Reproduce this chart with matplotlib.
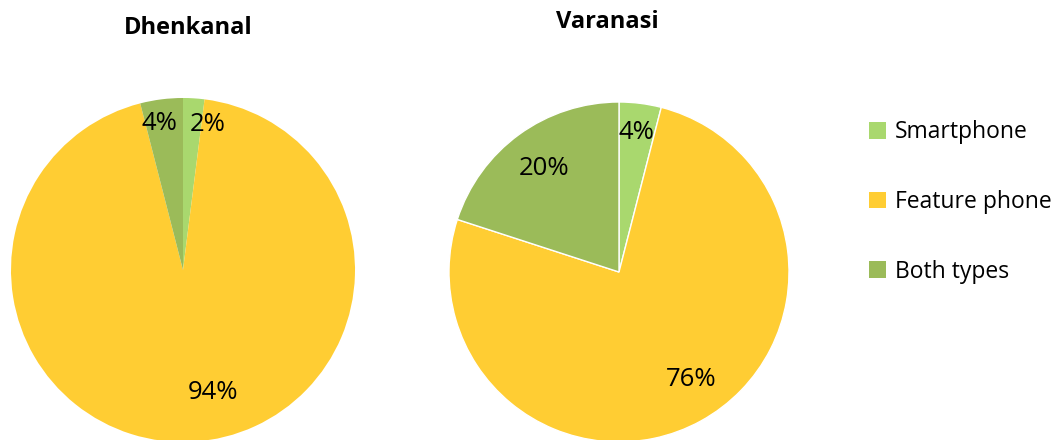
import numpy as np
import matplotlib.pyplot as plt
from matplotlib.patches import Patch

plt.rcParams['font.family'] = ['Open Sans', 'DejaVu Sans']

categories = ['Smartphone', 'Feature phone', 'Both types']
colors = ['#a9d86e', '#ffcd33', '#9bbb59']
dhenkanal = [2, 94, 4]
varanasi = [4, 76, 20]

fig = plt.figure(figsize=(10.62, 4.4), dpi=100)
ax = fig.add_axes([0, 0, 1, 1])

def draw_pie(vals, center, r, dists, shifts, edge):
    wedges, _ = ax.pie(vals, colors=colors, startangle=90, counterclock=False,
                       center=center, radius=r, frame=True,
                       wedgeprops=dict(edgecolor=edge, linewidth=1))
    for w, v, d, s in zip(wedges, vals, dists, shifts):
        ang = np.deg2rad((w.theta1 + w.theta2) / 2 + s)
        ax.text(center[0] + d * r * np.cos(ang), center[1] + d * r * np.sin(ang),
                f'{v}%', ha='center', va='center', fontsize=18.5)

draw_pie(dhenkanal, (183, 170), 172, [0.86, 0.73, 0.86], [-6, 10, 2], 'none')
draw_pie(varanasi, (619, 168), 170, [0.83, 0.76, 0.75], [0, 5, 0], 'white')
ax.set_xlim(0, 1062)
ax.set_ylim(0, 440)
ax.set_aspect('equal')
ax.axis('off')

fig.text(188 / 1062, 1 - 28 / 440, 'Dhenkanal', ha='center', va='center',
         fontsize=17, fontweight='bold')
fig.text(607 / 1062, 1 - 22 / 440, 'Varanasi', ha='center', va='center',
         fontsize=17, fontweight='bold')

handles = [Patch(facecolor=c, edgecolor='none') for c in colors]
fig.legend(handles, categories, loc='center left', bbox_to_anchor=(848 / 1062, 1 - 202 / 440),
           frameon=False, fontsize=16.5, labelspacing=2.0, handlelength=0.75,
           handleheight=0.75, handletextpad=0.4)

fig.savefig('out.png', dpi=100)
